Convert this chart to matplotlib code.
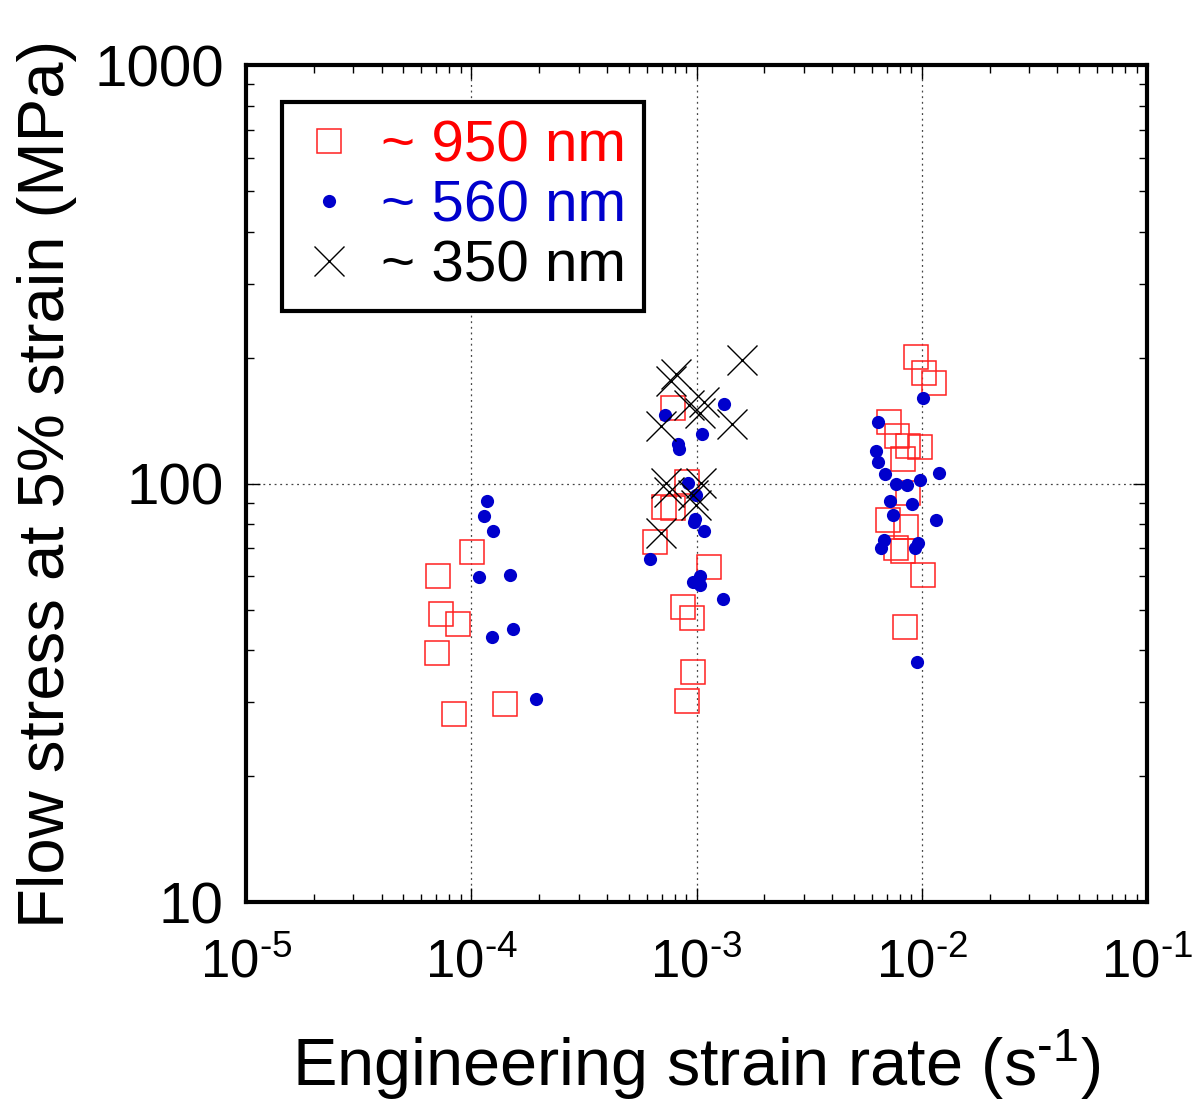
import matplotlib
matplotlib.use("Agg")
import matplotlib.pyplot as plt
from matplotlib.ticker import FixedLocator, FixedFormatter, LogLocator, NullFormatter

# ---- data ----
rate_950 = [1.003e-4, 7.13e-5, 7.32e-5, 8.72e-5, 7.03e-5, 1.417e-4, 8.34e-5,
            7.84e-4, 9.05e-4, 7.20e-4, 7.87e-4, 6.56e-4, 1.141e-3, 8.74e-4, 9.56e-4, 9.63e-4, 9.05e-4,
            9.46e-3, 1.027e-2, 1.138e-2, 7.17e-3, 7.76e-3, 8.66e-3, 9.79e-3, 8.25e-3, 8.72e-3,
            7.10e-3, 8.51e-3, 7.65e-3, 8.25e-3, 1.016e-2, 8.39e-3]
stress_950 = [68.7, 60.0, 48.7, 46.2, 39.4, 29.7, 28.1,
              151.8, 101.0, 88.0, 87.3, 72.5, 63.1, 50.8, 47.7, 35.4, 30.2,
              200.3, 183.4, 173.5, 140.3, 129.9, 122.9, 122.4, 114.2, 95.1,
              81.8, 78.8, 70.0, 69.0, 60.4, 45.3]

rate_560 = [1.173e-4, 1.138e-4, 1.253e-4, 1.081e-4, 1.481e-4, 1.527e-4, 1.231e-4, 1.933e-4,
            1.327e-3, 7.25e-4, 1.056e-3, 8.26e-4, 8.37e-4, 9.18e-4, 9.99e-4, 9.81e-4, 9.72e-4,
            1.078e-3, 6.23e-4, 1.041e-3, 9.63e-4, 1.041e-3, 1.317e-3,
            1.009e-2, 6.41e-3, 6.25e-3, 6.36e-3, 6.84e-3, 1.193e-2, 7.65e-3, 8.63e-3, 9.86e-3,
            7.26e-3, 9.02e-3, 7.44e-3, 1.161e-2, 6.79e-3, 6.58e-3, 9.62e-3, 9.33e-3, 9.52e-3]
stress_560 = [91.0, 83.5, 77.0, 59.9, 60.4, 44.8, 42.9, 30.6,
              154.6, 145.8, 131.5, 124.3, 120.7, 100.1, 93.7, 82.3, 80.9,
              76.9, 66.0, 60.2, 58.3, 57.3, 53.0,
              159.8, 140.5, 119.8, 112.4, 105.4, 106.1, 99.7, 99.0, 101.8,
              91.0, 89.2, 84.1, 81.9, 73.3, 70.0, 71.9, 70.0, 37.5]

rate_350 = [1.595e-3, 8.11e-4, 7.71e-4, 9.27e-4, 1.038e-3, 1.081e-3, 6.96e-4, 1.440e-3,
            7.32e-4, 1.048e-3, 7.57e-4, 9.63e-4, 9.96e-4, 6.96e-4]
stress_350 = [197.3, 182.6, 176.1, 154.0, 147.4, 156.6, 137.3, 138.8,
              100.1, 100.1, 95.6, 93.9, 88.8, 76.0]

labels = ["~ 950 nm", "~ 560 nm", "~ 350 nm"]
xticks = [1e-5, 1e-4, 1e-3, 1e-2, 1e-1]
xticklabels = [r"$10^{\text{-5}}$", r"$10^{\text{-4}}$", r"$10^{\text{-3}}$",
               r"$10^{\text{-2}}$", r"$10^{\text{-1}}$"]
yticks = [10, 100, 1000]
yticklabels = ["10", "100", "1000"]

plt.rcParams['font.family'] = ['Liberation Sans', 'DejaVu Sans']
plt.rcParams['mathtext.fontset'] = 'custom'
plt.rcParams['mathtext.rm'] = 'Liberation Sans'
plt.rcParams['mathtext.it'] = 'Liberation Sans'
plt.rcParams['mathtext.default'] = 'rm'

fig = plt.figure(figsize=(11.93, 11.08), dpi=100)
ax = fig.add_axes([0.2062, 0.1859, 0.9615 - 0.2062, 0.9413 - 0.1859])

ax.set_xscale('log')
ax.set_yscale('log')
ax.set_xlim(1e-5, 1e-1)
ax.set_ylim(10, 1000)

h1, = ax.plot(rate_950, stress_950, ls='none', marker='s', ms=17, mfc='none', mec='#ff2020', mew=1.1, zorder=3)
h2, = ax.plot(rate_560, stress_560, ls='none', marker='o', ms=9.5, mfc='#0000cc', mec='#0000cc', mew=0, zorder=3)
h3, = ax.plot(rate_350, stress_350, ls='none', marker='x', ms=21, mec='black', mew=1.0, zorder=3)

ax.xaxis.set_major_locator(FixedLocator(xticks))
ax.xaxis.set_major_formatter(FixedFormatter(xticklabels))
ax.yaxis.set_major_locator(FixedLocator(yticks))
ax.yaxis.set_major_formatter(FixedFormatter(yticklabels))
ax.xaxis.set_minor_locator(LogLocator(base=10, subs=range(2, 10)))
ax.yaxis.set_minor_locator(LogLocator(base=10, subs=range(2, 10)))
ax.xaxis.set_minor_formatter(NullFormatter())
ax.yaxis.set_minor_formatter(NullFormatter())

ax.tick_params(which='both', direction='in', top=True, right=True, width=1.0, color='black')
ax.tick_params(which='major', length=10)
ax.tick_params(which='minor', length=6)
ax.tick_params(axis='x', labelsize=38, pad=26)
ax.tick_params(axis='y', labelsize=42, pad=16)

for s in ax.spines.values():
    s.set_linewidth(3)

ax.grid(True, which='major', ls=(0, (1.5, 3)), color='#444444', lw=0.9)

ax.set_xlabel(r"Engineering strain rate (s$^{\text{-1}}$)", fontsize=48, labelpad=28)
ax.set_ylabel("Flow stress at 5% strain (MPa)", fontsize=47, labelpad=12)

leg = ax.legend([h1, h2, h3], labels, loc='upper left', bbox_to_anchor=(0.040, 0.956),
                borderaxespad=0, frameon=True, fancybox=False, framealpha=1,
                handlelength=1.0, handletextpad=0.4, labelspacing=0.1,
                borderpad=0.3, prop={'size': 42})
leg.get_frame().set_edgecolor('black')
leg.get_frame().set_linewidth(3)
for t, c in zip(leg.get_texts(), ['#ff0000', '#0000cc', 'black']):
    t.set_color(c)

fig.savefig("out.png", dpi=100)
